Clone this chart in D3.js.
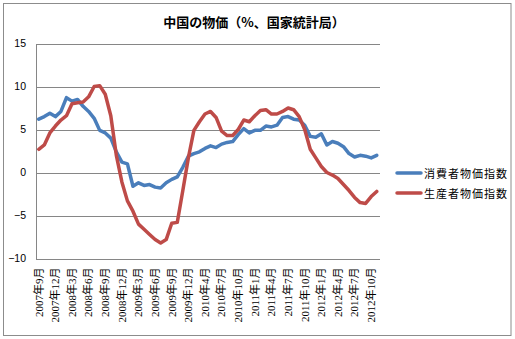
<!DOCTYPE html>
<html>
<head>
<meta charset="utf-8">
<script src="https://cdn.jsdelivr.net/npm/d3@7"></script>
<style>
  html, body { margin: 0; padding: 0; background: #fff; }
  svg { display: block; }
</style>
</head>
<body>
<svg id="chart" width="515" height="339"></svg>
<script>
// Monthly categories (2010 Jan/Feb reported together)
const months = [
  "2007年9月","2007年10月","2007年11月","2007年12月",
  "2008年1月","2008年2月","2008年3月","2008年4月","2008年5月","2008年6月",
  "2008年7月","2008年8月","2008年9月","2008年10月","2008年11月","2008年12月",
  "2009年1月","2009年2月","2009年3月","2009年4月","2009年5月","2009年6月",
  "2009年7月","2009年8月","2009年9月","2009年10月","2009年11月","2009年12月",
  "2010年2月","2010年3月","2010年4月","2010年5月","2010年6月","2010年7月",
  "2010年8月","2010年9月","2010年10月","2010年11月","2010年12月",
  "2011年1月","2011年2月","2011年3月","2011年4月","2011年5月","2011年6月",
  "2011年7月","2011年8月","2011年9月","2011年10月","2011年11月","2011年12月",
  "2012年1月","2012年2月","2012年3月","2012年4月","2012年5月","2012年6月",
  "2012年7月","2012年8月","2012年9月","2012年10月","2012年11月"
];

// Consumer price index, year on year %
const cpi = [
  6.2, 6.5, 6.9, 6.5,
  7.1, 8.7, 8.3, 8.5, 7.7, 7.1, 6.3, 4.9, 4.6, 4.0, 2.4, 1.2,
  1.0, -1.6, -1.2, -1.5, -1.4, -1.7, -1.8, -1.2, -0.8, -0.5, 0.6, 1.9,
  2.2, 2.4, 2.8, 3.1, 2.9, 3.3, 3.5, 3.6, 4.4, 5.1, 4.6,
  4.9, 4.9, 5.4, 5.3, 5.5, 6.4, 6.5, 6.2, 6.1, 5.5, 4.2, 4.1,
  4.5, 3.2, 3.6, 3.4, 3.0, 2.2, 1.8, 2.0, 1.9, 1.7, 2.0
];

// Producer price index, year on year %
const ppi = [
  2.7, 3.2, 4.6, 5.4,
  6.1, 6.6, 8.0, 8.1, 8.2, 8.8, 10.0, 10.1, 9.1, 6.6, 2.0, -1.1,
  -3.3, -4.5, -6.0, -6.6, -7.2, -7.8, -8.2, -7.8, -5.9, -5.8, -2.1, 1.7,
  4.9, 5.9, 6.8, 7.1, 6.4, 4.8, 4.3, 4.3, 5.0, 6.1, 5.9,
  6.6, 7.2, 7.3, 6.8, 6.8, 7.1, 7.5, 7.3, 6.5, 5.0, 2.7, 1.7,
  0.7, 0.0, -0.3, -0.7, -1.4, -2.1, -2.9, -3.5, -3.6, -2.8, -2.2
];

const yTicks = [-10, -5, 0, 5, 10, 15];
const seriesNames = ["消費者物価指数", "生産者物価指数"];
const seriesColors = ["#4A7EBB", "#BE4B48"];
const title = "中国の物価（%、国家統計局）";

const svg = d3.select("#chart");

// outer frame
svg.append("rect")
  .attr("x", 3.5).attr("y", 3.5)
  .attr("width", 507.5).attr("height", 332)
  .attr("fill", "#fff")
  .attr("stroke", "#8c8c8c")
  .attr("stroke-width", 1);

const plot = { left: 36, right: 379.5, top: 43.5, bottom: 258.5 };

const x = d3.scaleBand()
  .domain(months)
  .range([plot.left, plot.right])
  .paddingInner(0).paddingOuter(0);

const y = d3.scaleLinear()
  .domain([-10, 15])
  .range([plot.bottom, plot.top]);

const cx = m => x(m) + x.bandwidth() / 2;

// title
svg.append("text")
  .attr("x", 254).attr("y", 21)
  .attr("text-anchor", "middle")
  .attr("dominant-baseline", "central")
  .attr("font-family", "'Noto Sans CJK JP', sans-serif")
  .attr("font-weight", "bold")
  .attr("font-size", 13)
  .attr("fill", "#000")
  .text(title);

// horizontal gridlines and y labels
const yAxis = d3.axisLeft(y)
  .tickValues(yTicks)
  .tickSize(-(plot.right - plot.left))
  .tickPadding(10)
  .tickFormat(d3.format("d"));

const gy = svg.append("g")
  .attr("transform", `translate(${plot.left},0)`)
  .call(yAxis);
gy.select(".domain").remove();
gy.selectAll(".tick line")
  .attr("stroke", "#868686")
  .attr("shape-rendering", "crispEdges");
gy.selectAll(".tick text")
  .attr("font-family", "'Liberation Sans', Arial, sans-serif")
  .attr("font-size", 10.5)
  .attr("fill", "#000");

// left axis line
svg.append("line")
  .attr("x1", plot.left + 0.5).attr("x2", plot.left + 0.5)
  .attr("y1", plot.top).attr("y2", plot.bottom)
  .attr("stroke", "#868686")
  .attr("shape-rendering", "crispEdges");

// x labels, every third month, rotated
const xAxis = d3.axisBottom(x)
  .tickValues(months.filter((d, i) => i % 3 === 0))
  .tickSize(0)
  .tickPadding(0);

const gx = svg.append("g")
  .attr("transform", `translate(0,${plot.bottom})`)
  .call(xAxis);
gx.select(".domain").remove();
gx.selectAll(".tick text")
  .attr("transform", "translate(0,9) rotate(-90)")
  .attr("x", 0).attr("y", 0)
  .attr("dy", "0.35em")
  .attr("text-anchor", "end")
  .attr("font-family", "'Liberation Serif', 'Noto Sans CJK JP', serif")
  .attr("font-size", 11)
  .attr("fill", "#000");

// series lines
const line = d3.line()
  .x((d, i) => cx(months[i]))
  .y(d => y(d))
  .curve(d3.curveLinear);

[cpi, ppi].forEach((vals, k) => {
  svg.append("path")
    .datum(vals)
    .attr("d", line)
    .attr("fill", "none")
    .attr("stroke", seriesColors[k])
    .attr("stroke-width", 3.5)
    .attr("stroke-linejoin", "round")
    .attr("stroke-linecap", "round");
});

// legend
const legend = svg.append("g");
seriesNames.forEach((name, k) => {
  const ly = 173 + k * 20;
  legend.append("line")
    .attr("x1", 397).attr("x2", 421)
    .attr("y1", ly).attr("y2", ly)
    .attr("stroke", seriesColors[k])
    .attr("stroke-width", 3.5)
    .attr("stroke-linecap", "round");
  legend.append("text")
    .attr("x", 424).attr("y", ly)
    .attr("dominant-baseline", "central")
    .attr("font-family", "'Noto Sans CJK JP', sans-serif")
    .attr("font-size", 11)
    .attr("letter-spacing", 1)
    .attr("fill", "#000")
    .text(name);
});
</script>
</body>
</html>
